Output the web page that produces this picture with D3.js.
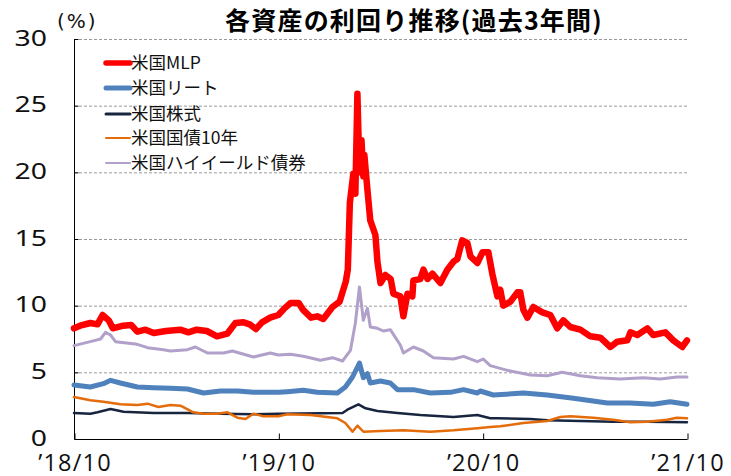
<!DOCTYPE html>
<html><head><meta charset="utf-8">
<script src="https://cdn.jsdelivr.net/npm/d3@7"></script>
<style>
body{margin:0;background:#fff;}
svg{display:block;}
</style></head>
<body>
<svg id="chart" width="731" height="476"></svg>
<script>
// x values are decimal years (2018.75 = 2018/10)
const title = "各資産の利回り推移(過去3年間)";
const unitLabel = "(%)";
const yTicks = [0, 5, 10, 15, 20, 25, 30];
const xTicks = [2018.75, 2019.75, 2020.75, 2021.75];
const xTickLabels = ["’18/10", "’19/10", "’20/10", "’21/10"];
const seriesNames = ["米国MLP", "米国リート", "米国株式", "米国国債10年", "米国ハイイールド債券"];

const mlp = [[2018.75,8.3],[2018.78,8.5],[2018.83,8.7],[2018.865,8.6],[2018.89,9.3],[2018.92,8.9],[2018.94,8.3],[2018.99,8.5],[2019.03,8.55],[2019.06,8.05],[2019.10,8.2],[2019.14,7.95],[2019.20,8.1],[2019.27,8.2],[2019.31,8.0],[2019.35,8.2],[2019.40,8.1],[2019.45,7.7],[2019.50,7.9],[2019.54,8.7],[2019.58,8.75],[2019.61,8.6],[2019.64,8.25],[2019.67,8.75],[2019.71,9.1],[2019.75,9.3],[2019.78,9.8],[2019.81,10.2],[2019.85,10.2],[2019.87,9.7],[2019.91,9.1],[2019.94,9.2],[2019.97,9.0],[2020.015,9.9],[2020.05,10.3],[2020.08,11.8],[2020.09,12.7],[2020.10,17.7],[2020.117,19.9],[2020.127,18.4],[2020.137,25.9],[2020.147,20.0],[2020.157,22.4],[2020.166,19.7],[2020.171,21.3],[2020.186,18.7],[2020.20,16.4],[2020.225,15.3],[2020.235,13.3],[2020.25,11.7],[2020.274,12.3],[2020.30,12.0],[2020.313,10.9],[2020.347,10.7],[2020.362,9.2],[2020.382,10.9],[2020.406,10.7],[2020.411,11.9],[2020.445,12.0],[2020.46,12.7],[2020.48,12.0],[2020.504,12.4],[2020.543,11.7],[2020.577,12.7],[2020.607,13.3],[2020.626,13.5],[2020.65,14.9],[2020.675,14.7],[2020.69,13.7],[2020.724,13.2],[2020.749,14.0],[2020.778,14.0],[2020.797,12.4],[2020.822,10.7],[2020.836,11.2],[2020.851,10.0],[2020.886,10.3],[2020.92,11.0],[2020.934,11.0],[2020.949,9.7],[2020.969,9.1],[2020.998,9.9],[2021.042,9.5],[2021.081,9.3],[2021.115,8.3],[2021.145,8.9],[2021.179,8.4],[2021.228,8.2],[2021.277,7.7],[2021.326,7.6],[2021.375,6.9],[2021.409,7.3],[2021.458,7.4],[2021.473,8.0],[2021.507,7.8],[2021.556,8.3],[2021.585,7.8],[2021.644,8.0],[2021.683,7.4],[2021.727,6.9],[2021.75,7.4]];

const reit = [[2018.75,4.05],[2018.83,3.9],[2018.894,4.15],[2018.929,4.4],[2018.977,4.2],[2019.06,3.9],[2019.139,3.85],[2019.222,3.8],[2019.305,3.75],[2019.384,3.45],[2019.467,3.6],[2019.55,3.6],[2019.628,3.5],[2019.75,3.5],[2019.794,3.55],[2019.872,3.65],[2019.94,3.5],[2020.039,3.45],[2020.078,3.9],[2020.113,4.65],[2020.147,5.7],[2020.166,4.6],[2020.186,4.9],[2020.2,4.2],[2020.25,4.35],[2020.298,4.2],[2020.333,3.7],[2020.411,3.7],[2020.494,3.45],[2020.592,3.5],[2020.656,3.7],[2020.724,3.45],[2020.738,3.6],[2020.802,3.3],[2020.949,3.45],[2021.066,3.3],[2021.194,3.05],[2021.36,2.7],[2021.472,2.7],[2021.585,2.6],[2021.668,2.8],[2021.75,2.6]];

const stock = [[2018.75,1.95],[2018.83,1.9],[2018.865,2.0],[2018.929,2.25],[2018.992,2.05],[2019.139,1.95],[2019.305,1.95],[2019.467,1.9],[2019.628,1.85],[2019.75,1.9],[2020.064,1.95],[2020.088,2.2],[2020.142,2.6],[2020.177,2.3],[2020.235,2.1],[2020.333,1.95],[2020.445,1.8],[2020.607,1.65],[2020.724,1.8],[2020.787,1.55],[2020.822,1.55],[2020.983,1.5],[2021.066,1.4],[2021.228,1.35],[2021.389,1.3],[2021.555,1.3],[2021.75,1.25]];

const treasury10y = [[2018.75,3.15],[2018.83,2.9],[2018.894,2.8],[2018.977,2.6],[2019.06,2.55],[2019.11,2.65],[2019.163,2.4],[2019.222,2.55],[2019.271,2.5],[2019.334,2.0],[2019.384,1.9],[2019.452,1.9],[2019.501,2.0],[2019.55,1.6],[2019.589,1.5],[2019.628,1.9],[2019.677,1.7],[2019.75,1.7],[2019.794,1.85],[2019.907,1.8],[2020.039,1.55],[2020.078,1.2],[2020.113,0.55],[2020.137,1.0],[2020.166,0.55],[2020.25,0.6],[2020.362,0.65],[2020.494,0.55],[2020.607,0.65],[2020.724,0.8],[2020.787,0.9],[2020.836,0.95],[2020.949,1.2],[2021.066,1.35],[2021.13,1.65],[2021.179,1.7],[2021.291,1.6],[2021.389,1.45],[2021.472,1.25],[2021.555,1.3],[2021.653,1.45],[2021.7,1.6],[2021.75,1.55]];

const highYield = [[2018.75,7.0],[2018.83,7.3],[2018.88,7.5],[2018.904,8.0],[2018.929,7.8],[2018.953,7.3],[2019.06,7.1],[2019.11,6.85],[2019.188,6.7],[2019.222,6.6],[2019.305,6.7],[2019.344,6.9],[2019.403,6.45],[2019.481,6.45],[2019.525,6.6],[2019.628,6.15],[2019.711,6.45],[2019.75,6.3],[2019.809,6.35],[2019.872,6.2],[2019.956,5.9],[2020.015,6.1],[2020.064,5.85],[2020.103,6.65],[2020.127,8.7],[2020.147,11.4],[2020.166,8.9],[2020.186,9.8],[2020.2,8.4],[2020.235,8.3],[2020.264,8.1],[2020.298,8.2],[2020.347,7.05],[2020.362,6.45],[2020.411,6.9],[2020.46,6.6],[2020.509,6.1],[2020.607,6.0],[2020.656,6.2],[2020.724,5.8],[2020.753,6.0],[2020.787,5.5],[2020.871,5.15],[2020.983,4.8],[2021.066,4.75],[2021.139,5.0],[2021.228,4.75],[2021.311,4.6],[2021.423,4.5],[2021.536,4.6],[2021.619,4.5],[2021.702,4.65],[2021.75,4.65]];

const seriesData = [mlp, reit, stock, treasury10y, highYield];
const colors = ["#ff0000", "#4f81bd", "#17253f", "#e46c0a", "#b1a0c9"];
const widths = [6.5, 5, 2.5, 2.5, 3];
const legendWidths = [5.5, 5, 3, 2, 2];
const drawOrder = [2, 3, 4, 1, 0];

const svg = d3.select("#chart");
const plot = {left: 74, right: 687, top: 39, bottom: 439};
const x = d3.scaleLinear().domain([2018.75, 2021.75]).range([plot.left, plot.right]);
const y = d3.scaleLinear().domain([0, 30]).range([plot.bottom, plot.top]);

// gridlines
svg.append("g").selectAll("line").data(yTicks.filter(d => d > 0)).join("line")
  .attr("x1", plot.left).attr("x2", plot.right)
  .attr("y1", d => y(d) + 0.5).attr("y2", d => y(d) + 0.5)
  .attr("stroke", "#9a9a9a").attr("stroke-width", 1).attr("stroke-dasharray", "3,2");

// y axis
const yAxis = d3.axisRight(y).tickValues(yTicks).tickSize(4).tickFormat("");
const gy = svg.append("g").attr("transform", `translate(${plot.left + 0.5},0)`).call(yAxis);
gy.select(".domain").attr("stroke", "#000").attr("d", `M0,${plot.top}V${plot.bottom}`);
gy.selectAll(".tick line").attr("stroke", "#000");

// y labels
svg.append("g").selectAll("text").data(yTicks).join("text")
  .attr("transform", d => `translate(47,${y(d) - 1}) scale(1.35,1)`)
  .attr("text-anchor", "end").attr("dy", "0.36em")
  .attr("font-family", "'Noto Sans', sans-serif").attr("font-size", 21).attr("fill", "#111")
  .text(d => d);

// x axis
const xAxis = d3.axisTop(x).tickValues(xTicks).tickSize(6).tickFormat("");
const gx = svg.append("g").attr("transform", `translate(0.5,${plot.bottom + 0.5})`).call(xAxis);
gx.select(".domain").attr("stroke", "#000").attr("d", `M${plot.left},0H${plot.right}`);
gx.selectAll(".tick line").attr("stroke", "#000");

svg.append("g").selectAll("text").data(xTicks).join("text")
  .attr("x", d => x(d) + 1).attr("y", 471)
  .attr("text-anchor", "middle")
  .attr("font-family", "'Open Sans', sans-serif").attr("font-size", 23.5).attr("fill", "#111")
  .attr("letter-spacing", 1.2)
  .text((d, i) => xTickLabels[i]);

// lines
const line = d3.line().x(d => x(d[0])).y(d => y(d[1])).curve(d3.curveLinear);
const gl = svg.append("g");
drawOrder.forEach(i => {
  gl.append("path").datum(seriesData[i])
    .attr("d", line).attr("fill", "none")
    .attr("stroke", colors[i]).attr("stroke-width", widths[i])
    .attr("stroke-linejoin", "round").attr("stroke-linecap", "round");
});

// legend
const legendRows = [63, 88, 114, 138, 163];
const lg = svg.append("g");
seriesNames.forEach((name, i) => {
  lg.append("line").attr("x1", 106).attr("x2", 130)
    .attr("y1", legendRows[i]).attr("y2", legendRows[i])
    .attr("stroke", colors[i]).attr("stroke-width", legendWidths[i]).attr("stroke-linecap", "round");
  lg.append("text").attr("x", 131).attr("y", legendRows[i]).attr("dy", "0.36em")
    .attr("font-family", "'Noto Sans CJK JP', sans-serif").attr("font-size", 17.5).attr("fill", "#111")
    .text(name);
});

// title & unit
svg.append("text").attr("x", 414).attr("y", 30).attr("text-anchor", "middle")
  .attr("font-family", "'Noto Sans CJK JP', sans-serif").attr("font-weight", "bold")
  .attr("font-size", 25).attr("fill", "#000").attr("letter-spacing", 1.2).text(title);
svg.append("text").attr("x", 57).attr("y", 28)
  .attr("font-family", "'DejaVu Sans', sans-serif").attr("font-size", 20).attr("fill", "#111")
  .attr("letter-spacing", 2)
  .text(unitLabel);
</script>
</body></html>
